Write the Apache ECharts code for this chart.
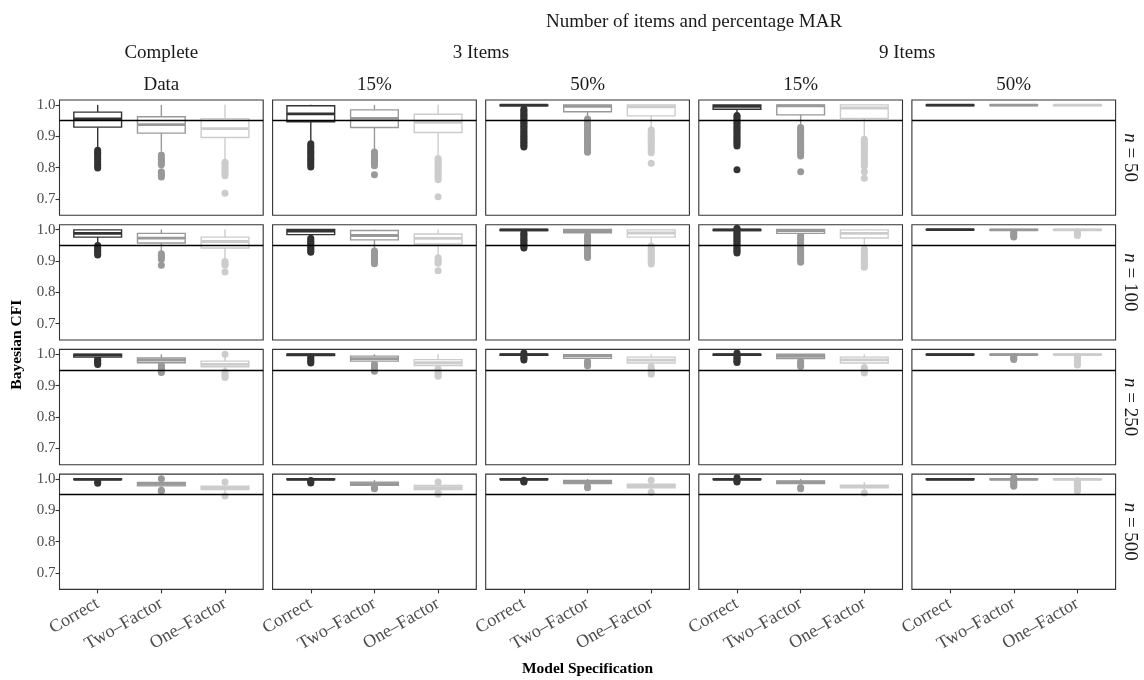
<!DOCTYPE html>
<html><head><meta charset="utf-8">
<script src="https://cdn.jsdelivr.net/npm/echarts@6/dist/echarts.min.js"></script>
<style>html,body{margin:0;padding:0;background:#fff}#c{width:1144px;height:680px}</style>
</head><body><div id="c"></div>
<script>
// ---------------- data ----------------
const models = ['Correct', 'Two\u2013Factor', 'One\u2013Factor'];
const colLabels = ['Data', '15%', '50%', '15%', '50%'];
const groupLabels = ['Complete', '3 Items', '9 Items'];
const superLabel = 'Number of items and percentage MAR';
const rowLabels = ['50', '100', '250', '500'];
const yTicks = [0.7, 0.8, 0.9, 1.0];
const refValue = 0.95;
const xTitle = 'Model Specification';
const yTitle = 'Bayesian CFI';

// five-number boxes [lower whisker, Q1, median, Q3, upper whisker]; per panel: Correct, Two-Factor, One-Factor
const boxN50 = [
  [0.856, 0.929, 0.955, 0.977, 1.0], [0.852, 0.910, 0.937, 0.962, 1.0], [0.825, 0.896, 0.924, 0.956, 1.0],
  [0.878, 0.946, 0.971, 0.997, 1.0], [0.852, 0.928, 0.957, 0.984, 1.0], [0.831, 0.912, 0.944, 0.970, 1.0],
  [0.990, 0.997, 0.999, 1.0, 1.0], [0.960, 0.978, 0.995, 1.0, 1.0], [0.925, 0.965, 0.994, 1.0, 1.0],
  [0.970, 0.986, 0.995, 1.0, 1.0], [0.931, 0.968, 0.997, 1.0, 1.0], [0.894, 0.957, 0.990, 1.0, 1.0],
  [0.997, 0.998, 0.999, 1.0, 1.0], [0.996, 0.998, 0.999, 1.0, 1.0], [0.996, 0.998, 0.999, 1.0, 1.0]
];
const boxN100 = [
  [0.955, 0.976, 0.988, 0.999, 1.0], [0.930, 0.957, 0.973, 0.988, 1.0], [0.905, 0.941, 0.962, 0.976, 1.0],
  [0.975, 0.984, 0.995, 1.0, 1.0], [0.938, 0.967, 0.981, 0.997, 1.0], [0.917, 0.954, 0.972, 0.986, 1.0],
  [0.993, 0.997, 0.999, 1.0, 1.0], [0.985, 0.990, 0.996, 1.0, 1.0], [0.955, 0.976, 0.989, 0.999, 1.0],
  [0.995, 0.997, 0.999, 1.0, 1.0], [0.985, 0.988, 0.997, 1.0, 1.0], [0.944, 0.973, 0.988, 0.999, 1.0],
  [0.998, 0.999, 1.0, 1.0, 1.0], [0.995, 0.998, 0.999, 1.0, 1.0], [0.995, 0.998, 0.999, 1.0, 1.0]
];
const boxN250 = [
  [0.985, 0.991, 0.997, 1.0, 1.0], [0.968, 0.973, 0.981, 0.988, 1.0], [0.948, 0.960, 0.968, 0.978, 0.993],
  [0.993, 0.996, 0.999, 1.0, 1.0], [0.972, 0.978, 0.986, 0.994, 1.0], [0.958, 0.964, 0.973, 0.983, 1.0],
  [0.995, 0.997, 0.999, 1.0, 1.0], [0.982, 0.987, 0.995, 0.999, 1.0], [0.966, 0.972, 0.981, 0.991, 1.0],
  [0.995, 0.997, 0.999, 1.0, 1.0], [0.981, 0.986, 0.993, 1.0, 1.0], [0.963, 0.972, 0.982, 0.991, 1.0],
  [0.997, 0.998, 0.999, 1.0, 1.0], [0.996, 0.998, 0.999, 1.0, 1.0], [0.996, 0.998, 0.999, 1.0, 1.0]
];
const boxN500 = [
  [0.993, 0.998, 0.999, 1.0, 1.0], [0.971, 0.978, 0.984, 0.989, 0.996], [0.953, 0.966, 0.971, 0.977, 0.985],
  [0.994, 0.998, 0.999, 1.0, 1.0], [0.975, 0.980, 0.985, 0.990, 0.997], [0.955, 0.966, 0.972, 0.979, 0.987],
  [0.995, 0.998, 0.999, 1.0, 1.0], [0.978, 0.985, 0.990, 0.995, 1.0], [0.962, 0.972, 0.977, 0.983, 0.992],
  [0.995, 0.998, 0.999, 1.0, 1.0], [0.976, 0.985, 0.990, 0.994, 1.0], [0.960, 0.972, 0.976, 0.980, 0.990],
  [0.997, 0.998, 0.999, 1.0, 1.0], [0.997, 0.998, 0.999, 1.0, 1.0], [0.997, 0.998, 0.999, 1.0, 1.0]
];

// outliers per panel and model
const outN50 = [
  [0.855, 0.849, 0.843, 0.838, 0.831, 0.825, 0.818, 0.811, 0.805, 0.799],
  [0.840, 0.834, 0.827, 0.821, 0.815, 0.809, 0.787, 0.781, 0.775, 0.770],
  [0.817, 0.812, 0.805, 0.799, 0.793, 0.787, 0.780, 0.774, 0.718],
  [0.876, 0.870, 0.864, 0.857, 0.851, 0.846, 0.840, 0.833, 0.827, 0.821, 0.815, 0.808, 0.802],
  [0.850, 0.844, 0.838, 0.832, 0.826, 0.820, 0.814, 0.806, 0.777],
  [0.829, 0.823, 0.817, 0.811, 0.805, 0.799, 0.792, 0.786, 0.780, 0.774, 0.767, 0.761, 0.707],
  [0.987, 0.982, 0.977, 0.972, 0.967, 0.962, 0.957, 0.952, 0.946, 0.941, 0.936, 0.931, 0.926, 0.921, 0.915, 0.910, 0.905, 0.900, 0.895, 0.890, 0.885, 0.880, 0.875, 0.870, 0.866],
  [0.955, 0.950, 0.945, 0.940, 0.935, 0.929, 0.924, 0.919, 0.914, 0.909, 0.903, 0.898, 0.893, 0.888, 0.882, 0.877, 0.872, 0.866, 0.861, 0.855, 0.849],
  [0.920, 0.914, 0.908, 0.902, 0.896, 0.890, 0.884, 0.878, 0.872, 0.866, 0.860, 0.853, 0.847, 0.814],
  [0.966, 0.961, 0.955, 0.950, 0.944, 0.939, 0.933, 0.927, 0.922, 0.916, 0.910, 0.904, 0.898, 0.893, 0.887, 0.881, 0.875, 0.869, 0.793],
  [0.928, 0.922, 0.916, 0.910, 0.904, 0.898, 0.892, 0.886, 0.880, 0.873, 0.867, 0.861, 0.855, 0.849, 0.843, 0.837, 0.787],
  [0.890, 0.884, 0.878, 0.872, 0.866, 0.860, 0.853, 0.847, 0.841, 0.834, 0.828, 0.822, 0.816, 0.810, 0.804, 0.787, 0.766],
  [], [], []
];
const outN100 = [
  [0.949, 0.944, 0.939, 0.934, 0.929, 0.924, 0.919],
  [0.923, 0.917, 0.911, 0.905, 0.886],
  [0.898, 0.892, 0.886, 0.865],
  [0.972, 0.967, 0.962, 0.957, 0.952, 0.947, 0.942, 0.937, 0.932, 0.928],
  [0.932, 0.926, 0.920, 0.914, 0.908, 0.902, 0.896, 0.891],
  [0.910, 0.904, 0.898, 0.893, 0.869],
  [0.990, 0.985, 0.980, 0.975, 0.970, 0.965, 0.960, 0.955, 0.950, 0.945, 0.941],
  [0.981, 0.975, 0.969, 0.963, 0.957, 0.951, 0.945, 0.939, 0.933, 0.927, 0.921, 0.916, 0.911],
  [0.948, 0.942, 0.936, 0.930, 0.924, 0.918, 0.912, 0.906, 0.900, 0.895, 0.890],
  [1.004, 1.001, 0.993, 0.988, 0.983, 0.978, 0.972, 0.967, 0.962, 0.956, 0.951, 0.946, 0.940, 0.935, 0.930, 0.925],
  [0.981, 0.975, 0.969, 0.963, 0.957, 0.951, 0.945, 0.939, 0.932, 0.926, 0.920, 0.914, 0.908, 0.902, 0.896],
  [0.938, 0.932, 0.926, 0.920, 0.914, 0.908, 0.902, 0.896, 0.890, 0.885, 0.880],
  [],
  [0.991, 0.986, 0.981, 0.976],
  [0.993, 0.988, 0.984, 0.981]
];
const outN250 = [
  [0.986, 0.981, 0.976, 0.971, 0.967],
  [0.966, 0.961, 0.956, 0.951, 0.946, 0.942],
  [1.000, 0.944, 0.938, 0.932, 0.926],
  [0.991, 0.986, 0.981, 0.976, 0.972],
  [0.969, 0.963, 0.957, 0.951, 0.946],
  [0.953, 0.947, 0.941, 0.935, 0.930],
  [1.004, 0.992, 0.987, 0.982],
  [0.978, 0.973, 0.968, 0.963],
  [0.960, 0.954, 0.948, 0.942, 0.936],
  [1.004, 0.993, 0.988, 0.983, 0.978, 0.974],
  [0.978, 0.972, 0.966, 0.961],
  [0.958, 0.952, 0.946, 0.940],
  [],
  [0.993, 0.988, 0.983],
  [0.994, 0.990, 0.985, 0.980, 0.975, 0.970, 0.966]
];
const outN500 = [
  [0.991, 0.986],
  [1.001, 0.964, 0.961],
  [0.990, 0.946],
  [0.995, 0.990, 0.987],
  [0.972, 0.969],
  [0.990, 0.956, 0.951],
  [0.996, 0.992, 0.990],
  [0.976, 0.972],
  [0.996, 0.958],
  [1.004, 0.997, 0.994, 0.990],
  [0.973, 0.969],
  [0.955],
  [],
  [1.004, 0.996, 0.991, 0.986, 0.981, 0.977],
  [0.994, 0.990, 0.986, 0.982, 0.978, 0.974, 0.970, 0.966, 0.962]
];

const boxRows = [boxN50, boxN100, boxN250, boxN500];
const outRows = [outN50, outN100, outN250, outN500];

// ---------------- styling / layout ----------------
const modelColors = ['#333333', '#999999', '#CCCCCC'];
const FONT = '"Liberation Serif", "DejaVu Serif", serif';
const L0 = 59.5, PW = 203.7, GAP = 9.4, T0 = 100, PH = 115.3;
const YMIN = 0.648, YMAX = 1.0155;
const NR = 4, NC = 5;
const STRIP = 19;

const grids = [], xAxes = [], yAxes = [], series = [];

function renderBox(params, api) {
  const x = api.value(0), lo = api.value(1), q1 = api.value(2), md = api.value(3), q3 = api.value(4), hi = api.value(5);
  const m = api.value(6);
  const col = modelColors[m];
  const hw = 0.375;
  const a = api.coord([x - hw, q3]), b = api.coord([x + hw, q1]);
  const c = api.coord([x, md]);
  const yl = api.coord([x, lo])[1], yh = api.coord([x, hi])[1];
  const xc = c[0];
  return {
    type: 'group',
    children: [
      { type: 'line', shape: { x1: xc, y1: yh, x2: xc, y2: a[1] }, style: { stroke: col, lineWidth: 1.4 } },
      { type: 'line', shape: { x1: xc, y1: b[1], x2: xc, y2: yl }, style: { stroke: col, lineWidth: 1.4 } },
      { type: 'rect', shape: { x: a[0], y: a[1], width: b[0] - a[0], height: Math.max(b[1] - a[1], 0.01) }, style: { fill: '#ffffff', stroke: col, lineWidth: 1.4 } },
      { type: 'line', shape: { x1: a[0], y1: c[1], x2: b[0], y2: c[1] }, style: { stroke: col, lineWidth: 2.8 } }
    ]
  };
}

for (let r = 0; r < NR; r++) {
  for (let c = 0; c < NC; c++) {
    const gi = r * NC + c;
    grids.push({
      left: L0 + c * (PW + GAP), top: T0 + r * (PH + GAP), width: PW, height: PH,
      show: true, borderColor: '#333333', borderWidth: 1.1, backgroundColor: 'transparent', containLabel: false
    });
    xAxes.push({
      gridIndex: gi, type: 'value', min: 0.4, max: 3.6,
      axisLine: { show: false }, splitLine: { show: false },
      axisTick: { show: r === NR - 1, customValues: [1, 2, 3], length: 4, lineStyle: { color: '#333333', width: 1.1 } },
      axisLabel: {
        show: r === NR - 1, customValues: [1, 2, 3], rotate: 30, margin: 13,
        formatter: v => models[Math.round(v) - 1] || '',
        color: '#4D4D4D', fontFamily: FONT, fontSize: 18
      }
    });
    yAxes.push({
      gridIndex: gi, type: 'value', min: YMIN, max: YMAX,
      axisLine: { show: false }, splitLine: { show: false },
      axisTick: { show: c === 0, customValues: yTicks, length: 4, lineStyle: { color: '#333333', width: 1.1 } },
      axisLabel: {
        show: c === 0, customValues: yTicks, margin: 4,
        formatter: v => v.toFixed(1),
        color: '#4D4D4D', fontFamily: FONT, fontSize: 15
      }
    });
    const boxes = boxRows[r], outs = outRows[r];
    for (let m = 0; m < 3; m++) {
      series.push({
        type: 'scatter', xAxisIndex: gi, yAxisIndex: gi, z: 2, silent: true,
        symbol: 'circle', symbolSize: 7,
        itemStyle: { color: modelColors[m], opacity: 1 },
        data: outs[c * 3 + m].map(v => [m + 1, v])
      });
    }
    series.push({
      type: 'custom', xAxisIndex: gi, yAxisIndex: gi, z: 3, silent: true,
      renderItem: renderBox,
      encode: { x: 0, y: [1, 2, 3, 4, 5] },
      data: [0, 1, 2].map(m => [m + 1].concat(boxes[c * 3 + m]).concat([m]))
    });
    series.push({
      type: 'scatter', xAxisIndex: gi, yAxisIndex: gi, z: 5, silent: true, data: [],
      markLine: {
        silent: true, symbol: ['none', 'none'], animation: false,
        label: { show: false },
        lineStyle: { color: '#000000', width: 1.3, type: 'solid' },
        data: [{ yAxis: refValue }]
      }
    });
  }
}

// ---------------- texts ----------------
const graphics = [];
function txt(x, y, text, size, extra) {
  const el = {
    type: 'text', x: x, y: y, silent: true, z: 100,
    style: Object.assign({ text: text, textAlign: 'center', textVerticalAlign: 'middle', fontFamily: FONT, fontSize: size, fill: '#1A1A1A' }, extra && extra.style || {})
  };
  if (extra && extra.rotation !== undefined) el.rotation = extra.rotation;
  return el;
}
const colLeft = c => L0 + c * (PW + GAP);
const colCenter = c => colLeft(c) + PW / 2;
const rowTop = r => T0 + r * (PH + GAP);

graphics.push(txt((colLeft(1) + colLeft(4) + PW) / 2, 22, superLabel, STRIP));
graphics.push(txt(colCenter(0), 53, groupLabels[0], STRIP));
graphics.push(txt((colLeft(1) + colLeft(2) + PW) / 2, 53, groupLabels[1], STRIP));
graphics.push(txt((colLeft(3) + colLeft(4) + PW) / 2, 53, groupLabels[2], STRIP));
for (let c = 0; c < NC; c++) graphics.push(txt(colCenter(c), 85, colLabels[c], STRIP));
for (let r = 0; r < NR; r++) {
  graphics.push(txt(1130, rowTop(r) + PH / 2, '{i|n} = ' + rowLabels[r], STRIP, {
    rotation: -Math.PI / 2,
    style: { rich: { i: { fontStyle: 'italic', fontFamily: FONT, fontSize: STRIP, fill: '#1A1A1A' } } }
  }));
}
graphics.push(txt(17, (T0 + rowTop(NR - 1) + PH) / 2, yTitle, 15.5, { rotation: Math.PI / 2, style: { fontWeight: 'bold', fill: '#000000' } }));
graphics.push(txt((L0 + colLeft(NC - 1) + PW) / 2, 669, xTitle, 15.5, { style: { fontWeight: 'bold', fill: '#000000' } }));

const chart = echarts.init(document.getElementById('c'), null, { renderer: 'canvas' });
chart.setOption({
  animation: false,
  backgroundColor: '#ffffff',
  grid: grids, xAxis: xAxes, yAxis: yAxes, series: series,
  graphic: graphics
});
</script>
</body></html>
